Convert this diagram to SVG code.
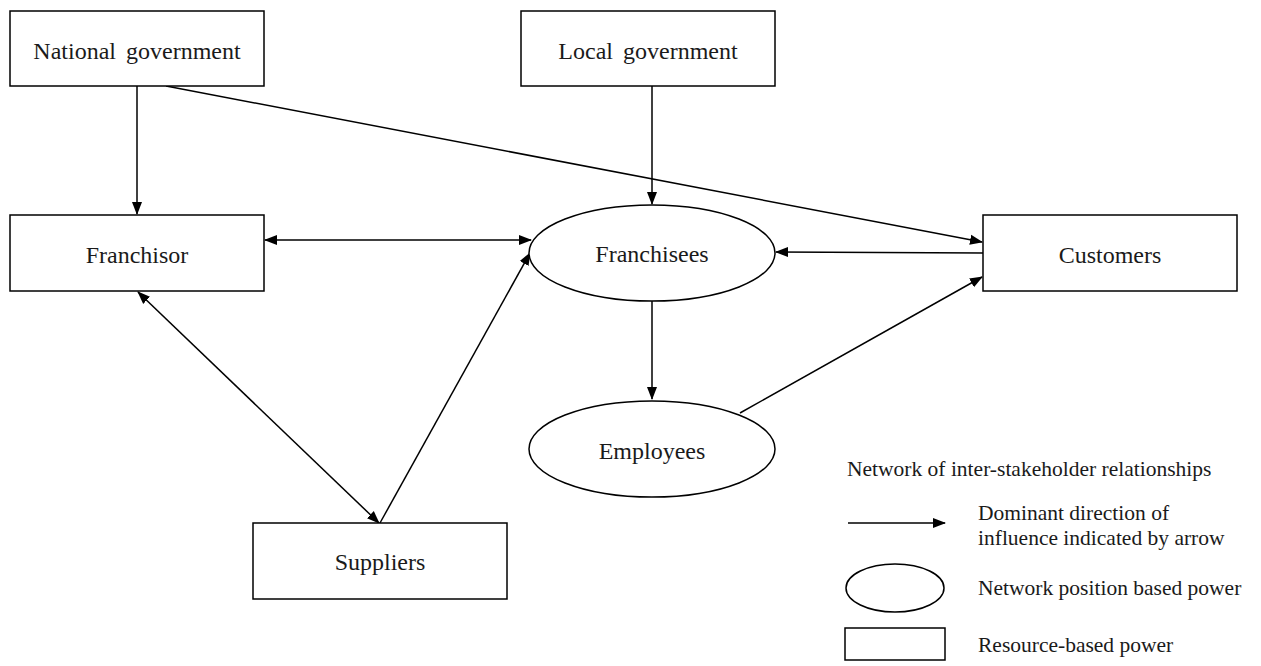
<svg xmlns="http://www.w3.org/2000/svg" width="1261" height="666" viewBox="0 0 1261 666">
<style>
.box{fill:#fff;stroke:#000;stroke-width:1.5}
.lbl{font-family:"Liberation Serif","Times New Roman",serif;font-size:24px;fill:#1a1a1a;text-anchor:middle}
.leg{font-family:"Liberation Serif","Times New Roman",serif;font-size:21.5px;fill:#1a1a1a}
.ln{stroke:#000;stroke-width:1.5;fill:none}
</style>
<defs>
<marker id="ah" markerUnits="userSpaceOnUse" markerWidth="14" markerHeight="12" refX="12" refY="5" orient="auto-start-reverse" viewBox="0 0 14 10">
<path d="M0,0 L13,5 L0,10 Z" fill="#000"/>
</marker>
</defs>
<rect width="1261" height="666" fill="#fff"/>
<g id="connectors">
<line class="ln" x1="137" y1="86" x2="137" y2="214" marker-end="url(#ah)"/>
<line class="ln" x1="166" y1="86" x2="982" y2="242" marker-end="url(#ah)"/>
<line class="ln" x1="652" y1="86" x2="652" y2="204" marker-end="url(#ah)"/>
<line class="ln" x1="265" y1="240" x2="531" y2="240" marker-start="url(#ah)" marker-end="url(#ah)"/>
<line class="ln" x1="983" y1="253" x2="776" y2="252" marker-end="url(#ah)"/>
<line class="ln" x1="652" y1="301" x2="652" y2="399" marker-end="url(#ah)"/>
<line class="ln" x1="740" y1="413" x2="982" y2="277" marker-end="url(#ah)"/>
<line class="ln" x1="138" y1="292" x2="379" y2="523" marker-start="url(#ah)" marker-end="url(#ah)"/>
<line class="ln" x1="380" y1="523" x2="530" y2="253" marker-end="url(#ah)"/>
</g>
<g id="national-government"><rect class="box" x="10" y="11" width="254" height="75"/><text class="lbl" x="137" y="59" word-spacing="4">National government</text></g>
<g id="local-government"><rect class="box" x="521" y="11" width="254" height="75"/><text class="lbl" x="648" y="59" word-spacing="4">Local government</text></g>
<g id="franchisor"><rect class="box" x="10" y="215" width="254" height="76"/><text class="lbl" x="137" y="263">Franchisor</text></g>
<g id="franchisees"><ellipse class="box" cx="652" cy="253" rx="123" ry="48"/><text class="lbl" x="652" y="262">Franchisees</text></g>
<g id="customers"><rect class="box" x="983" y="215" width="254" height="76"/><text class="lbl" x="1110" y="263">Customers</text></g>
<g id="employees"><ellipse class="box" cx="652" cy="449" rx="123" ry="48"/><text class="lbl" x="652" y="459">Employees</text></g>
<g id="suppliers"><rect class="box" x="253" y="523" width="254" height="76"/><text class="lbl" x="380" y="570">Suppliers</text></g>
<g id="legend">
<text class="leg" x="847" y="476">Network of inter-stakeholder relationships</text>
<line class="ln" x1="848" y1="523" x2="945" y2="523" marker-end="url(#ah)"/>
<text class="leg" x="978" y="520">Dominant direction of</text>
<text class="leg" x="978" y="545">influence indicated by arrow</text>
<ellipse class="box" cx="895" cy="588" rx="49" ry="24"/>
<text class="leg" x="978" y="595">Network position based power</text>
<rect class="box" x="845" y="628" width="100" height="32"/>
<text class="leg" x="978" y="652">Resource-based power</text>
</g>
</svg>
